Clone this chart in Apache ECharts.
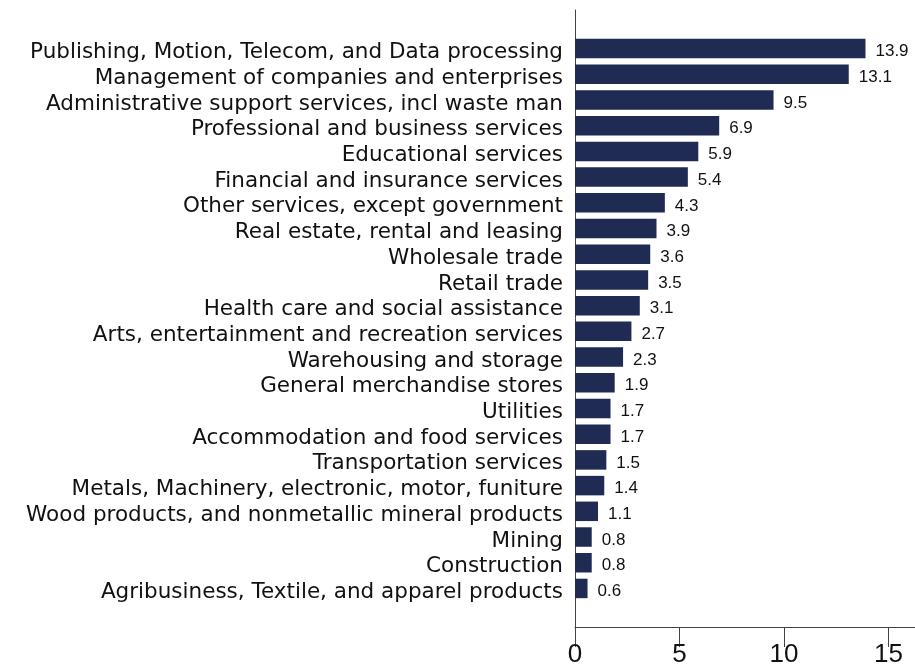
<!DOCTYPE html>
<html>
<head>
<meta charset="utf-8">
<script src="https://cdn.jsdelivr.net/npm/echarts@6/dist/echarts.min.js"></script>
<style>html,body{margin:0;padding:0;background:#fff}#c{width:915px;height:670px}</style>
</head>
<body>
<div id="c"></div>
<script>
const categories = [
  "Publishing, Motion, Telecom, and Data processing",
  "Management of companies and enterprises",
  "Administrative support services, incl waste man",
  "Professional and business services",
  "Educational services",
  "Financial and insurance services",
  "Other services, except government",
  "Real estate, rental and leasing",
  "Wholesale trade",
  "Retail trade",
  "Health care and social assistance",
  "Arts, entertainment and recreation services",
  "Warehousing and storage",
  "General merchandise stores",
  "Utilities",
  "Accommodation and food services",
  "Transportation services",
  "Metals, Machinery, electronic, motor, funiture",
  "Wood products, and nonmetallic mineral products",
  "Mining",
  "Construction",
  "Agribusiness, Textile, and apparel products"
];
const values = [13.9, 13.1, 9.5, 6.9, 5.9, 5.4, 4.3, 3.9, 3.6, 3.5, 3.1, 2.7, 2.3, 1.9, 1.7, 1.7, 1.5, 1.4, 1.1, 0.8, 0.8, 0.6];
const xTickStep = 5;
const xMax = 16.27;

// pad one empty slot at each end of the category axis
const cats = [''].concat(categories, ['']);
const vals = [null].concat(values, [null]);

const CAT_FONT = '"DejaVu Sans", Arial, sans-serif';
const NUM_FONT = 'Arial, "Liberation Sans", sans-serif';
const chart = echarts.init(document.getElementById('c'), null, {renderer: 'canvas'});
chart.setOption({
  animation: false,
  backgroundColor: '#ffffff',
  grid: {left: 575, right: 0, top: 10, bottom: 43, containLabel: false},
  xAxis: {
    type: 'value',
    min: 0, max: xMax, interval: xTickStep,
    splitLine: {show: false},
    axisLine: {show: true, onZero: false, lineStyle: {color: '#444', width: 1}},
    axisTick: {show: true, inside: false, length: 20, lineStyle: {color: '#444', width: 1}},
    axisLabel: {
      color: '#111', fontSize: 26, margin: 15, fontFamily: NUM_FONT,
      showMaxLabel: false,
      formatter: v => (v % xTickStep === 0) ? String(v) : ''
    }
  },
  yAxis: {
    type: 'category',
    inverse: true,
    data: cats,
    axisLine: {show: true, lineStyle: {color: '#444', width: 1}},
    axisTick: {show: false},
    axisLabel: {color: '#111', fontSize: 21.5, margin: 12, interval: 0,
      fontFamily: CAT_FONT, verticalAlign: 'top', lineHeight: 8}
  },
  series: [{
    type: 'bar',
    data: vals,
    barWidth: 19.5,
    itemStyle: {color: '#1f2b52'},
    label: {
      show: true, position: 'right', distance: 10, offset: [0, 3],
      color: '#111', fontSize: 17, fontFamily: NUM_FONT,
      formatter: p => p.value == null ? '' : p.value.toFixed(1)
    }
  }]
});
</script>
</body>
</html>
